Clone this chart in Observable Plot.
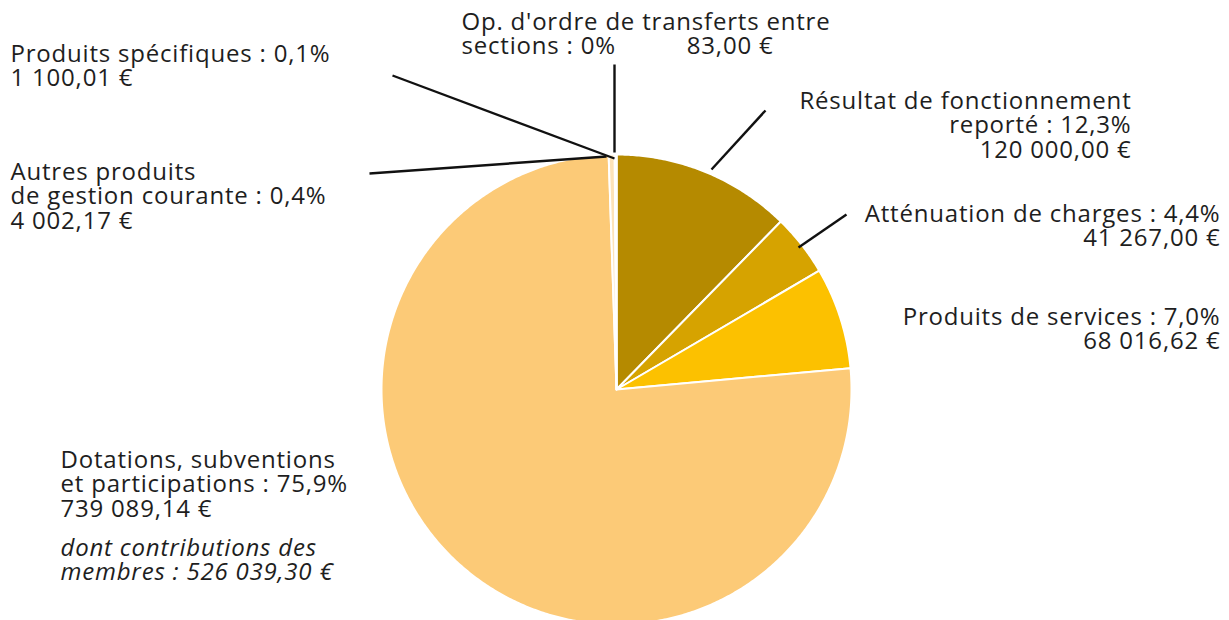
<!DOCTYPE html>
<html>
<head>
<meta charset="utf-8">
<script src="https://cdn.jsdelivr.net/npm/d3@7"></script>
<script src="https://cdn.jsdelivr.net/npm/@observablehq/plot@0.6"></script>
<style>
  html, body { margin: 0; padding: 0; background: #fff; }
  #chart svg { display: block; }
  #chart svg text { letter-spacing: 0.8px; }
</style>
</head>
<body>
<div id="chart"></div>
<script>
// ---- Data ----
const categories = [
  "Résultat de fonctionnement reporté",
  "Atténuation de charges",
  "Produits de services",
  "Dotations, subventions et participations",
  "Autres produits de gestion courante",
  "Produits spécifiques",
  "Op. d'ordre de transferts entre sections"
];
const amounts = [120000.00, 41267.00, 68016.62, 739089.14, 4002.17, 1100.01, 83.00];
const percentLabels = ["12,3%", "4,4%", "7,0%", "75,9%", "0,4%", "0,1%", "0%"];
const amountLabels = ["120 000,00 €", "41 267,00 €", "68 016,62 €", "739 089,14 €", "4 002,17 €", "1 100,01 €", "83,00 €"];
const sliceColors = ["#b58a00", "#d6a300", "#fcc100", "#fcca77", "#fde3b8", "#fff0d6", "#ffffff"];
const noteText = "dont contributions des\nmembres : 526 039,30 €";

// ---- Layout (pixels) ----
const W = 1229, H = 620;
const cx = 616, cy = 389, R = 235;
const FS = 24, LH = 1.02;
const toX = px => (px - cx) / R;
const toY = py => (cy - py) / R;

// ---- Pie geometry from the data ----
const total = d3.sum(amounts);
const polys = [];
let acc = 0;
categories.forEach((cat, i) => {
  const a0 = acc / total * 2 * Math.PI;
  acc += amounts[i];
  const a1 = acc / total * 2 * Math.PI;
  const n = Math.max(2, Math.ceil((a1 - a0) / (Math.PI / 360)));
  polys.push({cat, x: 0, y: 0});
  for (let k = 0; k <= n; k++) {
    const a = a0 + (a1 - a0) * k / n;
    polys.push({cat, x: Math.sin(a), y: Math.cos(a)});
  }
  polys.push({cat, x: 0, y: 0});
});

// ---- Labels & leader lines (annotation layout) ----
const labels = [
  {text: "Résultat de fonctionnement\nreporté : " + percentLabels[0] + "\n" + amountLabels[0], px: 1131, py: 91, anchor: "end", italic: false},
  {text: "Atténuation de charges : " + percentLabels[1] + "\n" + amountLabels[1], px: 1220, py: 204, anchor: "end", italic: false},
  {text: "Produits de services : " + percentLabels[2] + "\n" + amountLabels[2], px: 1220, py: 307, anchor: "end", italic: false},
  {text: "Dotations, subventions\net participations : " + percentLabels[3] + "\n" + amountLabels[3], px: 60, py: 450, anchor: "start", italic: false},
  {text: noteText, px: 60, py: 538, anchor: "start", italic: true},
  {text: "Autres produits\nde gestion courante : " + percentLabels[4] + "\n" + amountLabels[4], px: 10, py: 162, anchor: "start", italic: false},
  {text: "Produits spécifiques : " + percentLabels[5] + "\n" + amountLabels[5], px: 10, py: 44, anchor: "start", italic: false},
  {text: "Op. d'ordre de transferts entre\nsections : " + percentLabels[6], px: 461, py: 12, anchor: "start", italic: false},
  {text: amountLabels[6], px: 773, py: 36.5, anchor: "end", italic: false}
];
const leaders = [
  {x1: 711, y1: 169, x2: 765, y2: 110},
  {x1: 798, y1: 247, x2: 846, y2: 214},
  {x1: 606, y1: 156, x2: 369, y2: 173},
  {x1: 614, y1: 158, x2: 392, y2: 75},
  {x1: 614, y1: 152, x2: 614, y2: 64}
];

const textMark = (data, anchor, italic) => Plot.text(data, {
  x: d => toX(d.px), y: d => toY(d.py), text: "text",
  textAnchor: anchor, lineAnchor: "top", lineHeight: LH,
  fontSize: FS, fontStyle: italic ? "italic" : "normal",
  fill: "#1e1e1e", fontFamily: "'Open Sans', sans-serif"
});

const chart = Plot.plot({
  width: W, height: H,
  margin: 0,
  x: {domain: [toX(0), toX(W)], axis: null},
  y: {domain: [toY(H), toY(0)], axis: null},
  color: {domain: categories, range: sliceColors},
  style: {fontFamily: "'Open Sans', sans-serif", background: "#fff"},
  marks: [
    Plot.line(polys, {x: "x", y: "y", z: "cat", fill: "cat", stroke: "#fff", strokeWidth: 2, strokeLinejoin: "round", curve: "linear"}),
    Plot.link(leaders, {x1: d => toX(d.x1), y1: d => toY(d.y1), x2: d => toX(d.x2), y2: d => toY(d.y2), stroke: "#111", strokeWidth: 2.4}),
    textMark(labels.filter(d => d.anchor === "start" && !d.italic), "start", false),
    textMark(labels.filter(d => d.anchor === "end"), "end", false),
    textMark(labels.filter(d => d.italic), "start", true)
  ]
});
document.getElementById("chart").appendChild(chart);
</script>
</body>
</html>
